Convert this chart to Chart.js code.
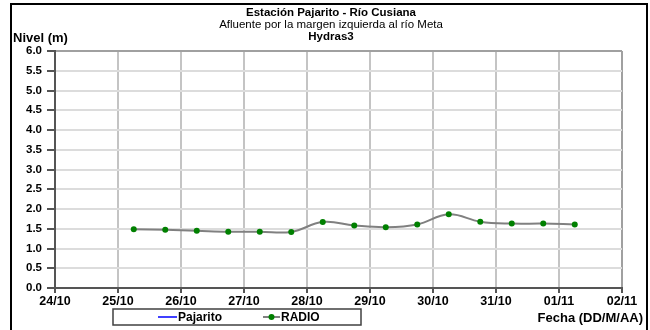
<!DOCTYPE html>
<html>
<head>
<meta charset="utf-8">
<title>Estación Pajarito - Río Cusiana</title>
<script src="https://cdn.jsdelivr.net/npm/chart.js@4"></script>
<style>
    html, body { margin: 0; padding: 0; background: #fff; }
    #wrap { width: 650px; height: 330px; }
</style>
</head>
<body>
<div id="wrap"><canvas id="nivelChart" width="650" height="330"></canvas></div>
<script>
const dayLabels = ['24/10', '25/10', '26/10', '27/10', '28/10', '29/10', '30/10', '31/10', '01/11', '02/11'];
// sample times, in days counted from 24/10 00:00
const sampleDays = [1.25, 1.75, 2.25, 2.75, 3.25, 3.75, 4.25, 4.75, 5.25, 5.75, 6.25, 6.75, 7.25, 7.75, 8.25];
const radioLevels = [1.49, 1.475, 1.45, 1.425, 1.425, 1.42, 1.67, 1.585, 1.54, 1.61, 1.865, 1.68, 1.63, 1.63, 1.61];
const pajaritoLevels = [];
const levelTicks = [0, 0.5, 1, 1.5, 2, 2.5, 3, 3.5, 4, 4.5, 5, 5.5, 6];

const titleLines = ['Estación Pajarito - Río Cusiana', 'Afluente por la margen izquierda al río Meta', 'Hydras3'];
const fontFamily = '"Liberation Sans", Arial, sans-serif';

function toPoints(days, values) {
    return values.map((v, i) => ({ x: days[i], y: v }));
}

const decorPlugin = {
    id: 'decor',
    afterDraw(chart) {
        const ctx = chart.ctx;
        ctx.save();

        // outer frame
        ctx.strokeStyle = '#000';
        ctx.lineWidth = 2;
        ctx.strokeRect(11, 4, 636, 340);

        // titles
        ctx.fillStyle = '#000';
        ctx.textAlign = 'center';
        ctx.textBaseline = 'middle';
        ctx.font = 'bold 11.5px ' + fontFamily;
        ctx.fillText(titleLines[0], 331, 13);
        ctx.font = '11.5px ' + fontFamily;
        ctx.fillText(titleLines[1], 331, 25);
        ctx.font = 'bold 11.5px ' + fontFamily;
        ctx.fillText(titleLines[2], 331, 37);

        // axis titles
        ctx.font = 'bold 13px ' + fontFamily;
        ctx.textAlign = 'left';
        ctx.fillText('Nivel (m)', 13, 38);
        ctx.textAlign = 'right';
        ctx.fillText('Fecha (DD/M/AA)', 643, 318);

        // legend box
        ctx.strokeStyle = '#404040';
        ctx.lineWidth = 1.5;
        ctx.strokeRect(113, 309, 248, 16);

        const ds = chart.data.datasets;
        ctx.font = 'bold 12px ' + fontFamily;
        ctx.textAlign = 'left';
        ctx.lineWidth = 1.5;
        ctx.strokeStyle = ds[0].borderColor;
        ctx.beginPath();
        ctx.moveTo(158, 317);
        ctx.lineTo(177, 317);
        ctx.stroke();
        ctx.fillText(ds[0].label, 178, 318);

        ctx.lineWidth = 2;
        ctx.strokeStyle = ds[1].borderColor;
        ctx.beginPath();
        ctx.moveTo(263, 317);
        ctx.lineTo(280, 317);
        ctx.stroke();
        ctx.fillStyle = ds[1].pointBackgroundColor;
        ctx.beginPath();
        ctx.arc(271.5, 317, 3, 0, Math.PI * 2);
        ctx.fill();
        ctx.fillStyle = '#000';
        ctx.fillText(ds[1].label, 281, 318);

        ctx.restore();
    }
};

const ctx = document.getElementById('nivelChart').getContext('2d');
new Chart(ctx, {
    type: 'line',
    data: {
        datasets: [{
            label: 'Pajarito',
            data: toPoints(sampleDays, pajaritoLevels),
            borderColor: '#0000ff',
            borderWidth: 1.5,
            pointRadius: 0
        }, {
            label: 'RADIO',
            data: toPoints(sampleDays, radioLevels),
            borderColor: '#808080',
            borderWidth: 2,
            tension: 0.4,
            pointRadius: 3,
            pointBorderWidth: 0,
            pointBackgroundColor: '#008000',
            pointBorderColor: '#008000'
        }]
    },
    options: {
        responsive: false,
        animation: false,
        layout: { padding: { top: 51, right: 28, bottom: 0, left: 0 } },
        plugins: {
            legend: { display: false },
            title: { display: false },
            tooltip: { enabled: false }
        },
        scales: {
            x: {
                type: 'linear',
                min: 0,
                max: dayLabels.length - 1,
                afterFit: (scale) => { scale.height = 42; },
                afterBuildTicks: (scale) => {
                    scale.ticks = dayLabels.map((_, i) => ({ value: i }));
                },
                ticks: {
                    color: '#000',
                    font: { family: fontFamily, size: 12.5, weight: 'bold' },
                    padding: 1,
                    maxRotation: 0,
                    callback: (v) => dayLabels[v]
                },
                grid: {
                    color: (c) => c.tick && c.tick.value === dayLabels.length - 1 ? '#a0a0a0' : '#c4c4c4',
                    lineWidth: 2,
                    tickLength: 5,
                    tickColor: '#555'
                },
                border: { display: true, color: '#555', width: 2 }
            },
            y: {
                min: 0,
                max: 6,
                afterFit: (scale) => { scale.width = 55; },
                afterBuildTicks: (scale) => {
                    scale.ticks = levelTicks.map((v) => ({ value: v }));
                },
                ticks: {
                    color: '#000',
                    font: { family: fontFamily, size: 11.5, weight: 'bold' },
                    padding: 5,
                    callback: (v) => v.toFixed(1)
                },
                grid: {
                    color: (c) => c.tick && c.tick.value === 6 ? '#a0a0a0' : '#dcdcdc',
                    lineWidth: 2,
                    tickLength: 8,
                    tickColor: '#555'
                },
                border: { display: true, color: '#555', width: 2 }
            }
        }
    },
    plugins: [decorPlugin]
});
</script>
</body>
</html>
